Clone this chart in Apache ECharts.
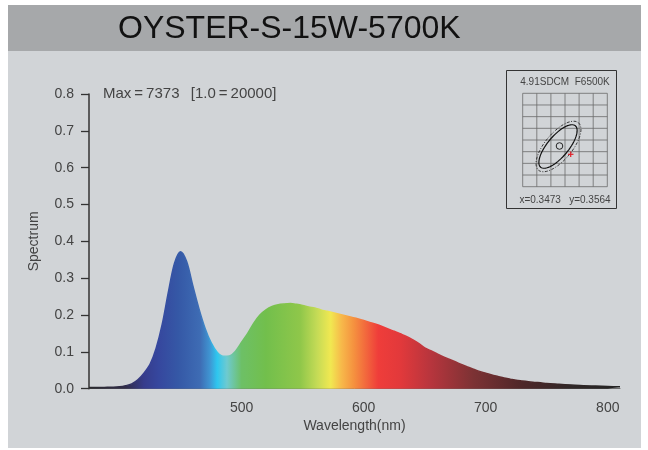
<!DOCTYPE html>
<html><head><meta charset="utf-8">
<script src="https://cdn.jsdelivr.net/npm/echarts@6/dist/echarts.min.js"></script>
<style>html,body{margin:0;padding:0;background:#fff}#c{width:648px;height:450px}</style>
</head><body><div id="c"></div>
<script>
// ---- data ----
const titleText = 'OYSTER-S-15W-5700K';
const maxNote = 'Max\u2009=\u20097373  \u2009[1.0\u2009=\u200920000]';
const wavelengths = [375,380,385,390,395,400,405,410,415,420,425,430,435,440,445,450,455,460,465,470,475,480,485,490,495,500,505,510,515,520,525,530,535,540,545,550,555,560,565,570,575,580,585,590,595,600,605,610,615,620,625,630,635,640,645,650,655,660,665,670,675,680,685,690,695,700,705,710,715,720,725,730,735,740,745,750,760,770,780,790,800,810];
const spectrum = [0.003,0.003,0.003,0.004,0.004,0.005,0.008,0.013,0.024,0.042,0.066,0.110,0.175,0.262,0.340,0.372,0.345,0.280,0.218,0.165,0.125,0.099,0.088,0.089,0.102,0.126,0.150,0.178,0.200,0.214,0.223,0.228,0.230,0.231,0.229,0.226,0.222,0.219,0.214,0.210,0.206,0.202,0.198,0.194,0.190,0.185,0.180,0.175,0.169,0.162,0.156,0.149,0.142,0.133,0.123,0.111,0.103,0.095,0.087,0.080,0.073,0.066,0.059,0.053,0.047,0.042,0.037,0.033,0.029,0.026,0.023,0.021,0.019,0.017,0.016,0.014,0.012,0.010,0.008,0.007,0.006,0.005];
const xTickLabels = [500,600,700,800];
const yTickLabels = [0.0,0.1,0.2,0.3,0.4,0.5,0.6,0.7,0.8];
const insetTop = '4.91SDCM  F6500K';
const insetBottom = 'x=0.3473   y=0.3564';
// colour stops for the spectral fill (wavelength, colour)
const colorStopWl = [375,405,420,432,448,466,474,480,488,500,520,548,562,573,582,592,612,630,655,690,730,770,810];
const colorStopCol = ['#2a2a2c','#302c48','#363c8c','#36479e','#3558a6','#3e6cb4','#3f95d2','#2ec6ef','#6ecad0','#6dc066','#72bf4c','#8fc74a','#c5db56','#f1e851','#f7b84a','#f5913f','#ef3d3a','#e2393b','#b7353d','#7c3234','#4e2729','#302828','#232323'];

const xMin = 375, xMax = 810;
const stops = colorStopWl.map((w,i)=>({offset:(w-xMin)/(xMax-xMin), color:colorStopCol[i]}));
const grad = () => new echarts.graphic.LinearGradient(0,0,1,0,stops);

const FONT = '"Liberation Sans", Arial, sans-serif';

const gfx = [];
gfx.push({type:'rect', z:-10, shape:{x:8,y:51,width:633,height:397}, style:{fill:'#d1d4d7'}});
gfx.push({type:'rect', z:-10, shape:{x:8,y:5,width:633,height:46}, style:{fill:'#a6a8aa'}});
gfx.push({type:'text', left:118, top:13, style:{text:titleText, font:'32px '+FONT, fill:'#111'}});
gfx.push({type:'text', x:103, y:94, style:{text:maxNote, font:'15px '+FONT, fill:'#444', verticalAlign:'middle'}});
// inset box (decoration)
const ins = [];
ins.push({type:'rect', shape:{x:506.5,y:70.5,width:110,height:138}, style:{fill:'none', stroke:'#333', lineWidth:1}});
ins.push({type:'text', x:565, y:82, style:{text:insetTop, font:'10px '+FONT, fill:'#444', align:'center', verticalAlign:'middle'}});
ins.push({type:'text', x:565, y:200.5, style:{text:insetBottom, font:'10px '+FONT, fill:'#444', align:'center', verticalAlign:'middle'}});
const gx0=522.7, gx1=607.3, gy0=93.3, gy1=186.7;
for(let i=0;i<=6;i++){const x=gx0+(gx1-gx0)*i/6; ins.push({type:'line', shape:{x1:x,y1:gy0,x2:x,y2:gy1}, style:{stroke:'#6a6a6a', lineWidth:0.8}});}
for(let j=0;j<=8;j++){const y=gy0+(gy1-gy0)*j/8; ins.push({type:'line', shape:{x1:gx0,y1:y,x2:gx1,y2:y}, style:{stroke:'#6a6a6a', lineWidth:0.8}});}
function ell(cx,cy,a,b,deg){const t=deg*Math.PI/180, pts=[]; for(let k=0;k<72;k++){const p=k/72*2*Math.PI; const ex=a*Math.cos(p), ey=b*Math.sin(p); pts.push([cx+ex*Math.cos(t)+ey*Math.sin(t), cy-ex*Math.sin(t)+ey*Math.cos(t)]);} return pts;}
ins.push({type:'polygon', shape:{points:ell(558.5,146.5,31,13.5,50)}, style:{fill:'none', stroke:'#222', lineWidth:0.9, lineDash:[3,1.5,1,1.5]}});
ins.push({type:'polygon', shape:{points:ell(558,146.5,27,10.5,50)}, style:{fill:'none', stroke:'#111', lineWidth:1.2}});
ins.push({type:'circle', shape:{cx:559.5,cy:146,r:3.3}, style:{fill:'none', stroke:'#222', lineWidth:1}});
ins.push({type:'line', shape:{x1:568,y1:154.3,x2:573.5,y2:154.3}, style:{stroke:'#e0202a', lineWidth:1.2}});
ins.push({type:'line', shape:{x1:570.7,y1:151.5,x2:570.7,y2:157}, style:{stroke:'#e0202a', lineWidth:1.2}});
gfx.push({type:'group', children:ins});

const chart = echarts.init(document.getElementById('c'), null, {renderer:'canvas'});
chart.setOption({
  backgroundColor:'#ffffff',
  animation:false,
  graphic: gfx,
  grid:{left:89, right:28, top:94, bottom:61.3},
  xAxis:{
    type:'value', min:xMin, max:xMax,
    name:'Wavelength(nm)', nameLocation:'middle', nameGap:30,
    nameTextStyle:{color:'#444', fontSize:14, fontFamily:FONT},
    axisLine:{show:true, onZero:false, lineStyle:{color:'#6e6e6e', width:1}},
    axisTick:{show:false},
    splitLine:{show:false},
    axisLabel:{customValues:xTickLabels, color:'#444', fontSize:14, fontFamily:FONT, margin:12}
  },
  yAxis:{
    type:'value', min:0, max:0.8, interval:0.1,
    name:'Spectrum', nameLocation:'middle', nameGap:48,
    nameTextStyle:{color:'#444', fontSize:14, fontFamily:FONT},
    axisLine:{show:true, lineStyle:{color:'#333', width:1.5}},
    axisTick:{show:true, inside:false, length:8, lineStyle:{color:'#333', width:1.3}},
    splitLine:{show:false},
    axisLabel:{color:'#444', fontSize:14, fontFamily:FONT, margin:15, formatter:v=>v.toFixed(1)}
  },
  series:[{
    type:'line',
    data: wavelengths.map((w,i)=>[w, spectrum[i]]),
    showSymbol:false, smooth:0.3,
    lineStyle:{width:1.5, color:grad()},
    areaStyle:{color:grad(), opacity:1},
    z:3
  }]
});
</script></body></html>
